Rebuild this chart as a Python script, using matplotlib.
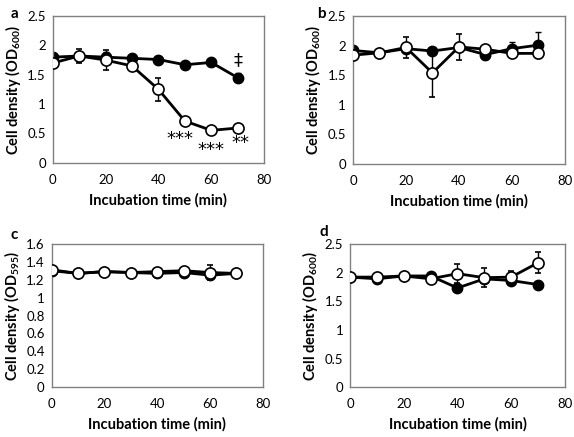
import numpy as np
import matplotlib
matplotlib.use('Agg')
from matplotlib import pyplot as plt

plt.rcParams['font.family'] = ['Lato', 'DejaVu Sans']
plt.rcParams['mathtext.fontset'] = 'custom'
plt.rcParams['mathtext.rm'] = 'Lato'
plt.rcParams['mathtext.bf'] = 'Lato:bold'

## Data
t = [0, 10, 20, 30, 40, 50, 60, 70]

a_fill = [1.80, 1.82, 1.80, 1.78, 1.76, 1.67, 1.71, 1.45]
a_fill_err = [0.05, 0.05, 0.08, 0.05, 0.05, 0.04, 0.06, 0.08]
a_open = [1.70, 1.82, 1.75, 1.65, 1.25, 0.71, 0.55, 0.59]
a_open_err = [0.08, 0.12, 0.17, 0.06, 0.20, 0.03, 0.03, 0.03]

b_fill = [1.92, 1.88, 1.95, 1.91, 1.97, 1.85, 1.95, 2.01]
b_fill_err = [0.04, 0.03, 0.05, 0.05, 0.05, 0.08, 0.12, 0.22]
b_open = [1.84, 1.88, 1.97, 1.54, 1.98, 1.94, 1.87, 1.87]
b_open_err = [0.03, 0.03, 0.18, 0.40, 0.22, 0.04, 0.03, 0.03]

c_fill = [1.30, 1.27, 1.29, 1.28, 1.27, 1.28, 1.25, 1.27]
c_fill_err = [0.02, 0.02, 0.02, 0.02, 0.02, 0.02, 0.03, 0.02]
c_open = [1.31, 1.27, 1.29, 1.28, 1.29, 1.30, 1.28, 1.27]
c_open_err = [0.02, 0.02, 0.02, 0.02, 0.02, 0.02, 0.08, 0.02]

d_fill = [1.92, 1.89, 1.94, 1.94, 1.73, 1.89, 1.86, 1.79]
d_fill_err = [0.03, 0.03, 0.03, 0.03, 0.05, 0.05, 0.04, 0.03]
d_open = [1.92, 1.92, 1.94, 1.89, 1.98, 1.91, 1.92, 2.17]
d_open_err = [0.03, 0.03, 0.03, 0.08, 0.17, 0.16, 0.10, 0.18]

# significance marks for panel a: (x, y, text)
sig_x = [48, 60, 71, 70]
sig_y = [0.40, 0.21, 0.33, 1.75]
sig_txt = ['***', '***', '**', '‡']

#%%

fig = plt.figure(figsize=(5.74, 4.37), dpi=100)

boxes = {'a': [0.092, 0.628, 0.368, 0.335],
         'b': [0.615, 0.625, 0.369, 0.338],
         'c': [0.090, 0.114, 0.368, 0.328],
         'd': [0.610, 0.114, 0.374, 0.328]}

panels = {'a': (a_fill, a_fill_err, a_open, a_open_err, 2.5, 0.5, '600'),
          'b': (b_fill, b_fill_err, b_open, b_open_err, 2.5, 0.5, '600'),
          'c': (c_fill, c_fill_err, c_open, c_open_err, 1.6, 0.2, '595'),
          'd': (d_fill, d_fill_err, d_open, d_open_err, 2.5, 0.5, '600')}

letter_pos = {'a': (0.018, 0.985), 'b': (0.552, 0.985),
              'c': (0.018, 0.478), 'd': (0.556, 0.485)}

for k in ['a', 'b', 'c', 'd']:
    yf, ef, yo, eo, ymax, ystep, od = panels[k]
    ax = fig.add_axes(boxes[k])
    ax.errorbar(t, yf, yerr=ef, color='k', lw=2, marker='o', ms=7.5,
                mfc='k', mec='k', ecolor='k', elinewidth=1, capsize=2.5, capthick=1, zorder=2)
    ax.errorbar(t, yo, yerr=eo, color='k', lw=2, marker='o', ms=8,
                mfc='white', mec='k', mew=1.2, ecolor='k', elinewidth=1, capsize=2.5, capthick=1, zorder=3)
    ax.set_xlim(0, 80)
    ax.set_ylim(0, ymax)
    ax.set_xticks(np.arange(0, 81, 20))
    yt = np.round(np.arange(0, ymax + 1e-9, ystep), 1)
    ax.set_yticks(yt)
    ax.set_yticklabels(['%g' % v for v in yt])
    ax.tick_params(axis='x', length=0, labelsize=9.5, pad=8)
    ax.tick_params(axis='y', length=0, labelsize=9.5, pad=5)
    for s in ax.spines.values():
        s.set_color('#808080')
        s.set_linewidth(1)
    ax.set_xlabel('Incubation time (min)', fontsize=10.5, fontweight='bold', labelpad=5)
    ax.set_ylabel(r'Cell density (OD$_{\mathbf{%s}}$)' % od, fontsize=10.5, fontweight='bold', labelpad=3)
    fig.text(letter_pos[k][0], letter_pos[k][1], k, fontsize=11, fontweight='bold', va='top')
    if k == 'a':
        for x, y, s in zip(sig_x, sig_y, sig_txt):
            ax.text(x, y, s, ha='center', va='center', fontsize=13, family=['DejaVu Sans'])

fig.savefig('out.png', dpi=100)
